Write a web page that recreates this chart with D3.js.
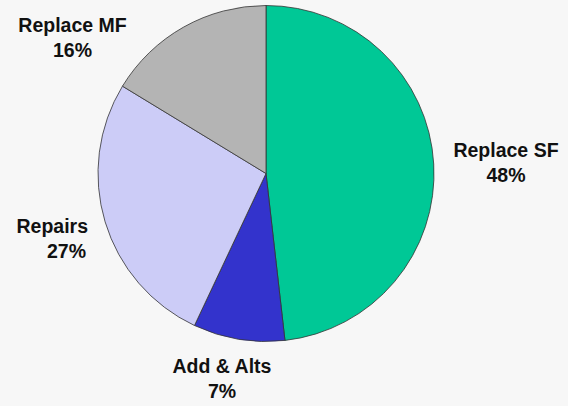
<!DOCTYPE html>
<html>
<head>
<meta charset="utf-8">
<script src="https://cdn.jsdelivr.net/npm/d3@7"></script>
<style>
html, body { margin: 0; padding: 0; background: #f7f7f7; }
svg { display: block; }
text { font-family: "Liberation Sans", Arial, sans-serif; font-weight: bold; fill: #111; }
</style>
</head>
<body>
<svg id="chart" width="568" height="406"></svg>
<script>
const categories = ["Replace SF", "Add & Alts", "Repairs", "Replace MF"];
const values = [48.2, 8.8, 26.7, 16.3];
const pctLabels = ["48%", "7%", "27%", "16%"];
const colors = ["#00c896", "#3333cc", "#ccccf7", "#b4b4b4"];

const svg = d3.select("#chart");
const cx = 266, cy = 173.5, r = 168;

const pie = d3.pie().sort(null).value(d => d.v);
const arcs = pie(categories.map((c, i) => ({ c, v: values[i], i })));
const arc = d3.arc().innerRadius(0).outerRadius(r);

const g = svg.append("g").attr("transform", `translate(${cx},${cy})`);
g.selectAll("path").data(arcs).join("path")
  .attr("d", arc)
  .attr("fill", d => colors[d.data.i])
  .attr("stroke", "#333")
  .attr("stroke-width", 0.8);

// label placement (text anchor position, alignment) per category
const labelPos = [
  { x: 506, y: 157, anchor: "middle" },
  { x: 222, y: 373, anchor: "middle" },
  { x: 88, y: 233, anchor: "end" },
  { x: 72.5, y: 32, anchor: "middle" }
];
categories.forEach((c, i) => {
  const p = labelPos[i];
  const t = svg.append("text")
    .attr("x", p.x).attr("y", p.y)
    .attr("text-anchor", p.anchor)
    .style("font-size", "19.5px");
  t.append("tspan").attr("x", p.x).text(c);
  t.append("tspan").attr("x", p.anchor === "end" ? p.x - 2 : p.x).attr("dy", 25).text(pctLabels[i]);
});
</script>
</body>
</html>
